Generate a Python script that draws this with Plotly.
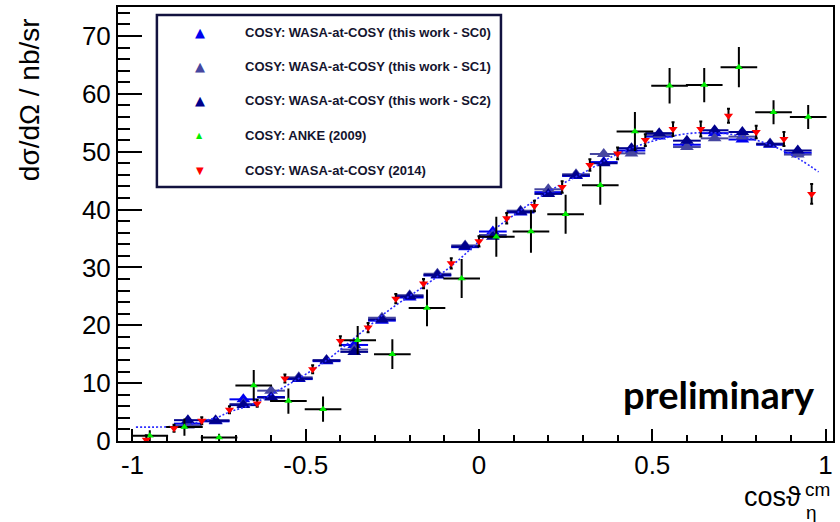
import plotly.graph_objects as go

# ---------------- data ----------------
# WASA-at-COSY (this work), three analysis variants SC0/SC1/SC2
x_wasa = [-0.84, -0.76, -0.68, -0.60, -0.52, -0.44, -0.36, -0.28, -0.20, -0.12, -0.04,
          0.04, 0.12, 0.20, 0.28, 0.36, 0.44, 0.52, 0.60, 0.68, 0.76, 0.84, 0.92]
xerr_wasa = [0.04] * 23
y_sc0 = [3.0, 3.4, 7.2, 7.6, 10.7, 13.8, 16.6, 20.8, 24.8, 28.6, 33.5,
         36.2, 39.5, 43.0, 45.8, 48.2, 50.2, 52.6, 51.2, 53.2, 52.1, 51.2, 49.8]
y_sc1 = [2.7, 3.6, 6.4, 8.7, 11.0, 14.0, 15.8, 21.3, 25.2, 28.9, 33.8,
         35.6, 39.8, 43.5, 46.1, 49.6, 49.7, 52.9, 50.8, 52.3, 52.6, 51.4, 49.5]
y_sc2 = [3.6, 3.5, 6.2, 7.5, 10.8, 13.9, 15.4, 21.0, 25.0, 28.7, 33.6,
         35.3, 39.6, 42.7, 45.9, 48.0, 50.6, 53.2, 51.9, 53.7, 53.4, 51.3, 50.2]
yerr_wasa = [0.3] * 23

# ANKE (2009)
x_anke = [-0.95, -0.85, -0.75, -0.65, -0.55, -0.45, -0.35, -0.25, -0.15, -0.05,
          0.05, 0.15, 0.25, 0.35, 0.45, 0.55, 0.65, 0.75, 0.85, 0.95]
xerr_anke = [0.05] * 20
y_anke = [0.9, 2.4, 0.6, 9.6, 6.9, 5.5, 17.4, 15.0, 23.0, 28.1,
          35.3, 36.2, 39.2, 44.2, 53.5, 61.4, 61.5, 64.6, 56.8, 56.0]
yerr_anke = [0.8, 1.3, 0.5, 2.5, 2.0, 2.0, 2.3, 2.4, 3.0, 3.2,
             3.3, 3.5, 3.2, 3.2, 3.2, 2.9, 2.8, 3.3, 1.9, 1.9]

# WASA-at-COSY (2014)
x_2014 = [-0.96, -0.88, -0.80, -0.72, -0.64, -0.56, -0.48, -0.40, -0.32, -0.24, -0.16, -0.08,
          0.00, 0.08, 0.16, 0.24, 0.32, 0.40, 0.48, 0.56, 0.64, 0.72, 0.80, 0.88, 0.96]
y_2014 = [0.2, 2.2, 3.5, 5.4, 6.5, 10.8, 12.4, 17.3, 19.6, 24.6, 27.2, 30.7,
          34.5, 38.5, 40.6, 43.9, 47.7, 49.7, 52.0, 53.9, 53.9, 56.2, 53.4, 52.2, 42.7]
yerr_2014 = [0.8, 0.6, 0.6, 0.6, 0.6, 0.7, 0.7, 0.8, 0.8, 0.8, 0.8, 0.9,
             0.9, 0.9, 0.9, 1.0, 1.0, 1.0, 1.0, 1.2, 1.3, 1.2, 1.1, 1.2, 1.7]

# fit curve
x_fit = [-0.99, -0.90, -0.85, -0.82, -0.755, -0.717, -0.66, -0.56, -0.45, -0.355, -0.26,
         -0.16, -0.07, 0.01, 0.10, 0.20, 0.30, 0.40, 0.50, 0.60, 0.70, 0.80, 0.87, 0.93, 0.98]
y_fit = [2.4, 2.45, 2.7, 3.1, 4.1, 5.1, 6.2, 9.4, 13.5, 18.0, 22.6,
         26.7, 30.7, 35.0, 39.0, 43.1, 46.3, 49.6, 51.8, 53.1, 53.2, 52.0, 50.4, 48.5, 46.5]

x_tickvals = [-1, -0.5, 0, 0.5, 1]
x_ticktext = ["-1", "-0.5", "0", "0.5", "1"]
y_tickvals = [0, 10, 20, 30, 40, 50, 60, 70]
y_ticktext = ["0", "10", "20", "30", "40", "50", "60", "70"]

series_names = ["COSY: WASA-at-COSY (this work - SC0)",
                "COSY: WASA-at-COSY (this work - SC1)",
                "COSY: WASA-at-COSY (this work - SC2)",
                "COSY: ANKE (2009)",
                "COSY: WASA-at-COSY (2014)"]

# ---------------- styles ----------------
C_SC0 = "#0000f0"
C_SC1 = "#4646a0"
C_SC2 = "#00008c"
C_ANKE = "#00ee00"
C_2014 = "#ff0000"
FONT = "Liberation Sans, Arial, Helvetica, sans-serif"

fig = go.Figure()

for ys, col, name in [(y_sc0, C_SC0, series_names[0]),
                      (y_sc1, C_SC1, series_names[1]),
                      (y_sc2, C_SC2, series_names[2])]:
    fig.add_trace(go.Scatter(
        x=x_wasa, y=ys, mode="markers", name=name, showlegend=False,
        marker=dict(symbol="triangle-up", size=12, color=col, line=dict(width=0)),
        error_x=dict(type="data", array=xerr_wasa, color=col, thickness=2, width=0),
        error_y=dict(type="data", array=yerr_wasa, color=col, thickness=2, width=0),
    ))

fig.add_trace(go.Scatter(
    x=x_fit, y=y_fit, mode="lines", showlegend=False,
    line=dict(color="#2a2aff", width=1.6, dash="2px,2px", shape="spline"),
))

fig.add_trace(go.Scatter(
    x=x_anke, y=y_anke, mode="markers", name=series_names[3], showlegend=False,
    marker=dict(symbol="triangle-up", size=7, color=C_ANKE, line=dict(width=0)),
    error_x=dict(type="data", array=xerr_anke, color="black", thickness=2, width=1),
    error_y=dict(type="data", array=yerr_anke, color="black", thickness=2, width=1),
))

fig.add_trace(go.Scatter(
    x=x_2014, y=y_2014, mode="markers", name=series_names[4], showlegend=False,
    marker=dict(symbol="triangle-down", size=8, color=C_2014, line=dict(width=0)),
    error_y=dict(type="data", array=yerr_2014, color="black", thickness=2, width=1.5),
))

# ---------------- manual legend box ----------------
fig.add_shape(type="rect", xref="paper", yref="paper",
              x0=0.0544, x1=0.5356, y0=0.5853, y1=0.9816,
              line=dict(color="#12123f", width=2.5), fillcolor="white", layer="above")

leg_rows_y = [0.9408, 0.8629, 0.7846, 0.7028, 0.6244]
leg_syms = [("▲", C_SC0, 13), ("▲", C_SC1, 13), ("▲", C_SC2, 13), ("▲", C_ANKE, 8), ("▼", C_2014, 10)]
for ly, (sym, col, sz), name in zip(leg_rows_y, leg_syms, series_names):
    fig.add_annotation(xref="paper", yref="paper", x=0.1144, y=ly, text=sym,
                       showarrow=False, xanchor="center", yanchor="middle",
                       font=dict(family="DejaVu Sans", size=sz, color=col))
    fig.add_annotation(xref="paper", yref="paper", x=0.1743, y=ly, text="<b>" + name + "</b>",
                       showarrow=False, xanchor="left", yanchor="middle",
                       font=dict(family=FONT, size=13, color="#14142e"))

# preliminary
fig.add_annotation(xref="paper", yref="paper", x=0.978, y=0.108, text="<b>preliminary</b>",
                   showarrow=False, xanchor="right", yanchor="middle",
                   font=dict(family="Lato", size=38, color="black"))

# axis titles
fig.add_annotation(xref="paper", yref="paper", x=-0.1227, y=0.786, text="dσ/dΩ / nb/sr",
                   textangle=-90, showarrow=False, xanchor="center", yanchor="middle",
                   font=dict(family=FONT, size=28, color="black"))
fig.add_annotation(xref="paper", yref="paper", x=(805 - 118) / 717, y=(441 - 497) / 434,
                   text="cosϑ", showarrow=False, xanchor="right", yanchor="middle",
                   font=dict(family=FONT, size=27, color="black"))
fig.add_annotation(xref="paper", yref="paper", x=(805 - 118) / 717, y=(441 - 490) / 434,
                   text="cm", showarrow=False, xanchor="left", yanchor="middle",
                   font=dict(family=FONT, size=19, color="black"))
fig.add_annotation(xref="paper", yref="paper", x=(806 - 118) / 717, y=(441 - 512) / 434,
                   text="η", showarrow=False, xanchor="left", yanchor="middle",
                   font=dict(family=FONT, size=19, color="black"))

fig.update_layout(
    width=840, height=522,
    margin=dict(l=118, r=5, t=7, b=81),
    paper_bgcolor="white", plot_bgcolor="white",
    showlegend=False,
    font=dict(family=FONT, color="black"),
    xaxis=dict(range=[-1.0417, 1.0216], tickvals=x_tickvals, ticktext=x_ticktext,
               ticks="inside", ticklen=12, tickwidth=1.5, tickcolor="black",
               minor=dict(dtick=0.1, ticks="inside", ticklen=6, tickwidth=1.5, tickcolor="black"),
               showline=True, linecolor="black", linewidth=2, mirror=True,
               showgrid=False, zeroline=False,
               tickfont=dict(family=FONT, size=26, color="black")),
    yaxis=dict(range=[0, 75], tickvals=y_tickvals, ticktext=y_ticktext,
               ticks="inside", ticklen=24, tickwidth=1.5, tickcolor="black",
               minor=dict(dtick=2, ticks="inside", ticklen=12, tickwidth=1.5, tickcolor="black"),
               showline=True, linecolor="black", linewidth=2, mirror=True,
               showgrid=False, zeroline=False,
               tickfont=dict(family=FONT, size=26, color="black")),
)

fig.write_html("out.html")
